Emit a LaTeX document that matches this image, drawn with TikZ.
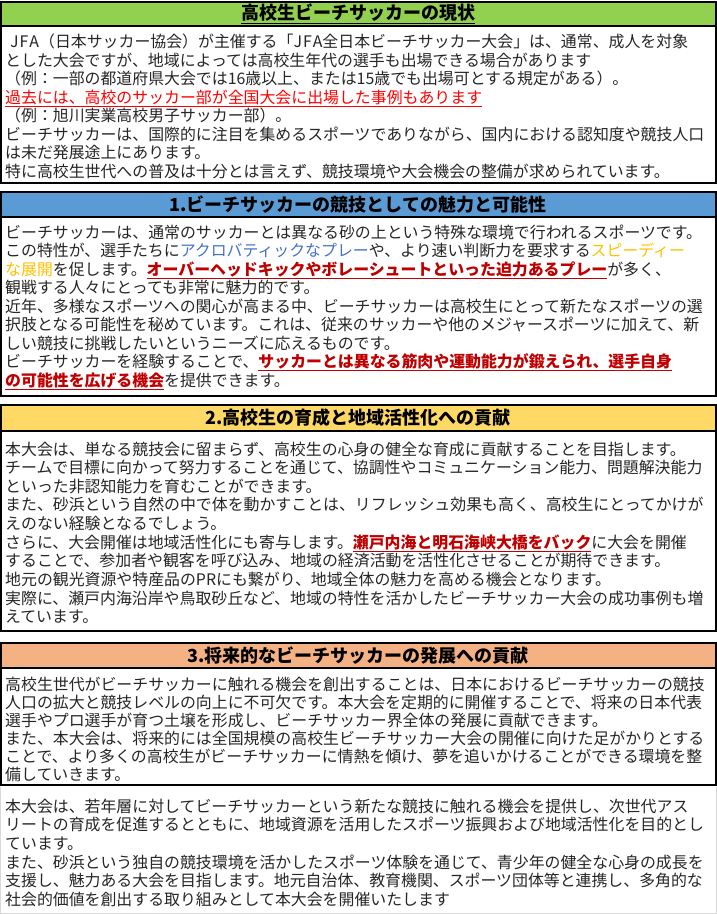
\documentclass[tikz,border=0pt]{standalone}
\usepackage{fontspec}
\setmainfont{Noto Sans CJK JP}
\newfontfamily\hfont{Noto Sans CJK JP Black}
\usepackage{xcolor}
\usepackage{tikz}
\usetikzlibrary{positioning}
\definecolor{hgreen}{HTML}{92D050}
\definecolor{hblue}{HTML}{5B9BD5}
\definecolor{hyellow}{HTML}{FFD966}
\definecolor{horange}{HTML}{F4B183}
\definecolor{dred}{HTML}{C00000}
\definecolor{acro}{HTML}{4472C4}
\definecolor{speedy}{HTML}{FFC000}
\newcommand{\redul}[1]{{\color{red}\underline{#1}}}
\newcommand{\dredul}[1]{{\color{dred}\bfseries\underline{#1}}}

\begin{document}
\begin{tikzpicture}[x=1pt,y=-1pt,
	txt/.style={anchor=base west,inner sep=0pt,font=\fontsize{15.9}{18}\selectfont,text=black!85},
	ttl/.style={inner sep=0pt,font=\hfont\fontsize{18}{20}\selectfont},
	hdr/.style={draw,line width=2pt},
	frame/.style={draw,line width=1.2pt}]
	\useasboundingbox[fill=white] (0,0) rectangle (717,914);
	% box 0
	\draw[frame] (1,26) rectangle (716,183);
	\draw[hdr,fill=hgreen] (1,2) rectangle (716,26);
	\node[ttl] (t0) at (358,14) {\underline{高校生ビーチサッカーの現状}};
	\foreach \t [count=\i] in {
		{\hspace*{5pt}J\kern1ptF\kern1ptA（日本サッカー協会）が主催する「J\kern1ptF\kern1ptA全日本ビーチサッカー大会」は、通常、成人を対象},
		{とした大会ですが、地域によっては高校生年代の選手も出場できる場合があります},
		{（例：一部の都道府県大会では16歳以上、または15歳でも出場可とする規定がある）。},
		{\redul{過去には、高校のサッカー部が全国大会に出場した事例もあります}},
		{（例：旭川実業高校男子サッカー部）。},
		{ビーチサッカーは、国際的に注目を集めるスポーツでありながら、国内における認知度や競技人口},
		{は未だ発展途上にあります。},
		{特に高校生世代への普及は十分とは言えず、競技環境や大会機会の整備が求められています。}}
		\node[txt] (s0l\i) at (5,29+18.5*\i) {\t};
	% box 1
	\draw[frame] (1,217) rectangle (716,396);
	\draw[hdr,fill=hblue] (1,192) rectangle (716,217);
	\node[ttl] (t1) at (358,205) {1.ビーチサッカーの競技としての魅力と可能性};
	\foreach \t [count=\i] in {
		{ビーチサッカーは、通常のサッカーとは異なる砂の上という特殊な環境で行われるスポーツです。},
		{この特性が、選手たちに{\color{acro}アクロバティックなプレー}や、より速い判断力を要求する{\color{speedy}スピーディー}},
		{{\color{speedy}な展開}を促します。\dredul{オーバーヘッドキックやボレーシュートといった迫力あるプレー}が多く、},
		{観戦する人々にとっても非常に魅力的です。},
		{近年、多様なスポーツへの関心が高まる中、ビーチサッカーは高校生にとって新たなスポーツの選},
		{択肢となる可能性を秘めています。これは、従来のサッカーや他のメジャースポーツに加えて、新},
		{しい競技に挑戦したいというニーズに応えるものです。},
		{ビーチサッカーを経験することで、\dredul{サッカーとは異なる筋肉や運動能力が鍛えられ、選手自身}},
		{\dredul{の可能性を広げる機会}を提供できます。}}
		\node[txt] (s1l\i) at (5,219.5+18.5*\i) {\t};
	% box 2
	\draw[frame] (1,431) rectangle (716,631);
	\draw[hdr,fill=hyellow] (1,405) rectangle (716,431);
	\node[ttl] (t2) at (358,418) {2.高校生の育成と地域活性化への貢献};
	\foreach \t [count=\i] in {
		{本大会は、単なる競技会に留まらず、高校生の心身の健全な育成に貢献することを目指します。},
		{チームで目標に向かって努力することを通じて、協調性やコミュニケーション能力、問題解決能力},
		{といった非認知能力を育むことができます。},
		{また、砂浜という自然の中で体を動かすことは、リフレッシュ効果も高く、高校生にとってかけが},
		{えのない経験となるでしょう。},
		{さらに、大会開催は地域活性化にも寄与します。\dredul{瀬戸内海と明石海峡大橋をバック}に大会を開催},
		{することで、参加者や観客を呼び込み、地域の経済活動を活性化させることが期待できます。},
		{地元の観光資源や特産品のPRにも繋がり、地域全体の魅力を高める機会となります。},
		{実際に、瀬戸内海沿岸や鳥取砂丘など、地域の特性を活かしたビーチサッカー大会の成功事例も増},
		{えています。}}
		\node[txt] (s2l\i) at (5,436.35+18.65*\i) {\t};
	% box 3
	\draw[frame] (1,668) rectangle (716,785);
	\draw[hdr,fill=horange] (1,643) rectangle (716,668);
	\node[ttl] (t3) at (358,656) {3.将来的なビーチサッカーの発展への貢献};
	\foreach \t [count=\i] in {
		{高校生世代がビーチサッカーに触れる機会を創出することは、日本におけるビーチサッカーの競技},
		{人口の拡大と競技レベルの向上に不可欠です。本大会を定期的に開催することで、将来の日本代表},
		{選手やプロ選手が育つ土壌を形成し、ビーチサッカー界全体の発展に貢献できます。},
		{また、本大会は、将来的には全国規模の高校生ビーチサッカー大会の開催に向けた足がかりとする},
		{ことで、より多くの高校生がビーチサッカーに情熱を傾け、夢を追いかけることができる環境を整},
		{備していきます。}}
		\node[txt] (s3l\i) at (5,672+18*\i) {\t};
	% closing text
	\draw[black!15] (0.5,787) -- (0.5,913.5) -- (716,913.5) -- (716,787);
	\foreach \t [count=\i] in {
		{本大会は、若年層に対してビーチサッカーという新たな競技に触れる機会を提供し、次世代アス},
		{リートの育成を促進するとともに、地域資源を活用したスポーツ振興および地域活性化を目的とし},
		{ています。},
		{また、砂浜という独自の競技環境を活かしたスポーツ体験を通じて、青少年の健全な心身の成長を},
		{支援し、魅力ある大会を目指します。地元自治体、教育機関、スポーツ団体等と連携し、多角的な},
		{社会的価値を創出する取り組みとして本大会を開催いたします}}
		\node[txt] (s4l\i) at (5,793.3+18.7*\i) {\t};
\end{tikzpicture}
\end{document}
